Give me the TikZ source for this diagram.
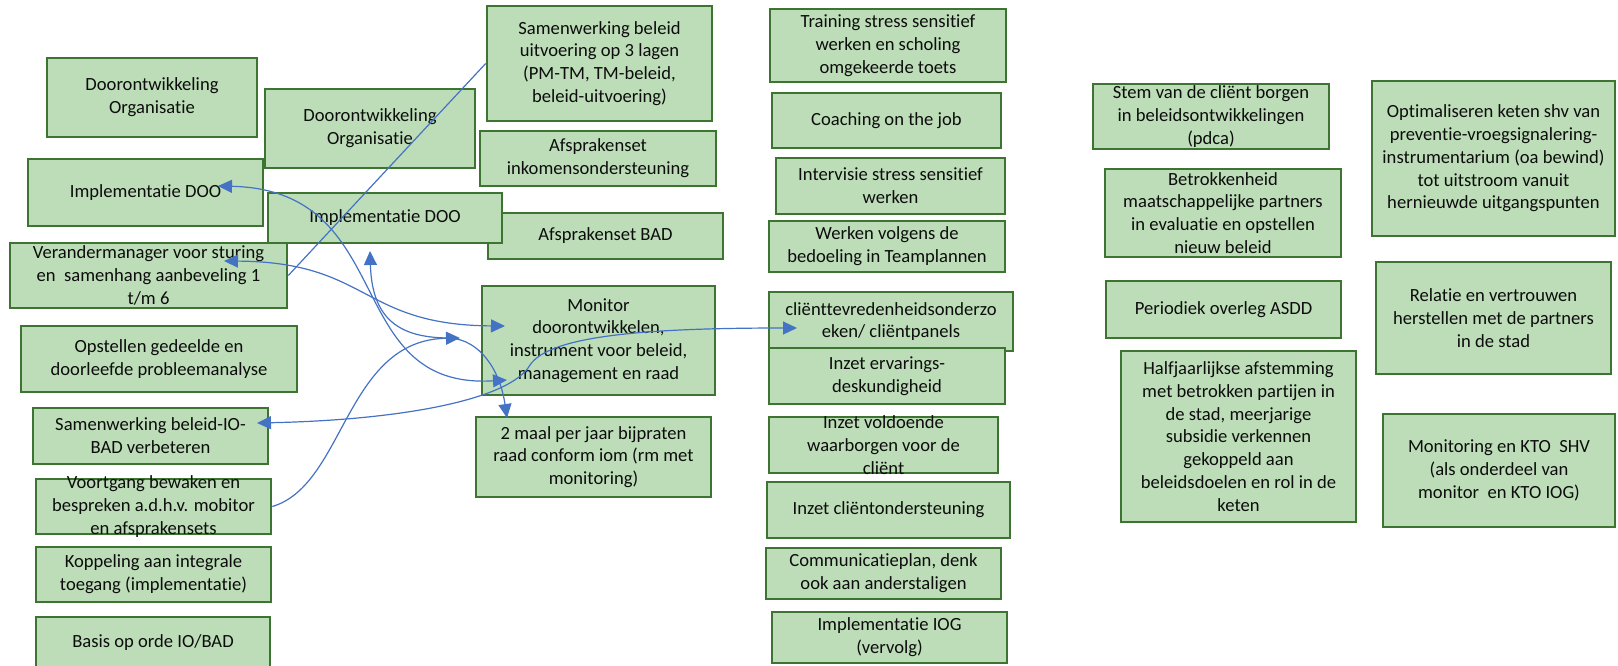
\documentclass[tikz,border=0pt]{standalone}
\usepackage{fontspec}
\setmainfont{Carlito}[Ligatures=NoCommon]
\usepackage{tikz}
\usetikzlibrary{fit,arrows.meta}
\definecolor{blokvul}{RGB}{189,221,184}
\definecolor{blokrand}{RGB}{62,116,50}
\definecolor{pijlblauw}{RGB}{68,114,196}

\begin{document}
\begin{tikzpicture}[x=0.5pt, y=-0.5pt,
    blok/.style={draw=blokrand, fill=blokvul, line width=1.3pt, inner sep=0pt},
    tekst/.style={align=center, inner sep=0pt, text=black!95, font=\fontsize{9.3}{11.4}\selectfont},
    lijn/.style={draw=pijlblauw, line width=0.6pt},
    pijl/.style={lijn, -{Triangle[length=7pt,width=6.5pt]}},
    tweepijl/.style={lijn, {Triangle[length=7pt,width=6.5pt]}-{Triangle[length=7pt,width=6.5pt]}}]
                \useasboundingbox (0,0) rectangle (1618,665);

                \node [blok, fit={(47,58) (257,137)}] (dooA) {};
                \node [tekst] (dooAt) at (dooA) {Doorontwikkeling\\Organisatie};
                \node [blok, fit={(265,89) (475,168)}] (dooB) {};
                \node [tekst] (dooBt) at (dooB) {Doorontwikkeling\\Organisatie};
                \node [blok, fit={(28,159) (263,226)}] (implA) {};
                \node [tekst] (implAt) at (implA) {Implementatie DOO};
                \node [blok, fit={(488,213) (723,259)}] (afsBAD) {};
                \node [tekst] (afsBADt) at (afsBAD) {Afsprakenset BAD};
                \node [blok, fit={(268,193) (502,243)}] (implB) {};
                \node [tekst] (implBt) at (implB) {Implementatie DOO};
                \node [blok, fit={(10,243) (287,308)}] (verander) {};
                \node [tekst] (veranderT) at (verander) {Verandermanager voor sturing\\en\ \ samenhang aanbeveling 1\\t/m 6};
                \node [blok, fit={(21,326) (297,392)}] (opstellen) {};
                \node [tekst] (opstellenT) at (opstellen) {Opstellen gedeelde en\\doorleefde probleemanalyse};
                \node [blok, fit={(33,408) (268,464)}] (samIO) {};
                \node [tekst] (samIOt) at (samIO) {Samenwerking beleid-IO-\\BAD verbeteren};
                \node [blok, fit={(36,479) (271,534)}] (voortgang) {};
                \node [tekst] (voortgangT) at (voortgang) {Voortgang bewaken en\\bespreken a.d.h.v. mobitor\\en afsprakensets};
                \node [blok, fit={(36,547) (271,602)}] (koppeling) {};
                \node [tekst] (koppelingT) at (koppeling) {Koppeling aan integrale\\toegang (implementatie)};
                \node [blok, fit={(36,617) (270,669)}] (basis) {};
                \node [tekst] (basisT) at (basis) {Basis op orde IO/BAD};

                \node [blok, fit={(487,6) (712,121)}] (samBeleid) {};
                \node [tekst] (samBeleidT) at (samBeleid) {Samenwerking beleid\\uitvoering op 3 lagen\\(PM-TM, TM-beleid,\\beleid-uitvoering)};
                \node [blok, fit={(480,131) (716,186)}] (afsInk) {};
                \node [tekst] (afsInkT) at (afsInk) {Afsprakenset\\inkomensondersteuning};
                \node [blok, fit={(482,286) (715,395)}] (monitor) {};
                \node [tekst] (monitorT) at (monitor) {Monitor\\doorontwikkelen,\\instrument voor beleid,\\management en raad};
                \node [blok, fit={(476,417) (711,497)}] (tweemaal) {};
                \node [tekst] (tweemaalT) at (tweemaal) {2 maal per jaar bijpraten\\raad conform iom (rm met\\monitoring)};

                \node [blok, fit={(770,9) (1006,82)}] (training) {};
                \node [tekst] (trainingT) at (training) {Training stress sensitief\\werken en scholing\\omgekeerde toets};
                \node [blok, fit={(772,93) (1001,148)}] (coaching) {};
                \node [tekst] (coachingT) at (coaching) {Coaching on the job};
                \node [blok, fit={(776,158) (1005,214)}] (intervisie) {};
                \node [tekst] (intervisieT) at (intervisie) {Intervisie stress sensitief\\werken};
                \node [blok, fit={(769,221) (1005,272)}] (werken) {};
                \node [tekst] (werkenT) at (werken) {Werken volgens de\\bedoeling in Teamplannen};
                \node [blok, fit={(769,292) (1013,351)}] (client) {};
                \node [tekst] (clientT) at (client) {cliënttevredenheidsonderzo\\eken/ cliëntpanels};
                \node [blok, fit={(769,348) (1005,404)}] (ervaring) {};
                \node [tekst] (ervaringT) at (ervaring) {Inzet ervarings-\\deskundigheid};
                \node [blok, fit={(769,417) (998,473)}] (voldoende) {};
                \node [tekst] (voldoendeT) at (voldoende) {Inzet voldoende\\waarborgen voor de\\cliënt};
                \node [blok, fit={(767,482) (1010,538)}] (clientOnd) {};
                \node [tekst] (clientOndT) at (clientOnd) {Inzet cliëntondersteuning};
                \node [blok, fit={(766,548) (1001,599)}] (communicatie) {};
                \node [tekst] (communicatieT) at (communicatie) {Communicatieplan, denk\\ook aan anderstaligen};
                \node [blok, fit={(772,612) (1007,663)}] (implIOG) {};
                \node [tekst] (implIOGt) at (implIOG) {Implementatie IOG\\(vervolg)};

                \node [blok, fit={(1093,84) (1329,149)}] (stem) {};
                \node [tekst] (stemT) at (stem) {Stem van de cliënt borgen\\in beleidsontwikkelingen\\(pdca)};
                \node [blok, fit={(1105,169) (1341,257)}] (betrokken) {};
                \node [tekst] (betrokkenT) at (betrokken) {Betrokkenheid\\maatschappelijke partners\\in evaluatie en opstellen\\nieuw beleid};
                \node [blok, fit={(1106,281) (1341,338)}] (periodiek) {};
                \node [tekst] (periodiekT) at (periodiek) {Periodiek overleg ASDD};
                \node [blok, fit={(1121,351) (1356,522)}] (halfjaar) {};
                \node [tekst] (halfjaarT) at (halfjaar) {Halfjaarlijkse afstemming\\met betrokken partijen in\\de stad, meerjarige\\subsidie verkennen\\gekoppeld aan\\beleidsdoelen en rol in de\\keten};
                \node [blok, fit={(1372,81) (1615,236)}] (optimal) {};
                \node [tekst] (optimalT) at (optimal) {Optimaliseren keten shv van\\preventie-vroegsignalering-\\instrumentarium (oa bewind)\\tot uitstroom vanuit\\hernieuwde uitgangspunten};
                \node [blok, fit={(1376,262) (1611,374)}] (relatie) {};
                \node [tekst] (relatieT) at (relatie) {Relatie en vertrouwen\\herstellen met de partners\\in de stad};
                \node [blok, fit={(1383,414) (1615,527)}] (monitoring) {};
                \node [tekst] (monitoringT) at (monitoring) {Monitoring en KTO\ \ SHV\\(als onderdeel van\\monitor\ \ en KTO IOG)};

                \coordinate (implApunt) at (218,186);
                \coordinate (monitorA) at (507,380);
                \coordinate (veranderPunt) at (224,261);
                \coordinate (monitorB) at (505,326);
                \coordinate (implBpunt) at (370,251);
                \coordinate (tweemaalPunt) at (507,418);
                \coordinate (samIOpunt) at (257,423);
                \coordinate (clientPunt) at (797,328);
                \coordinate (voortgangPunt) at (460,338);

                \draw [lijn] (verander.east) -- (samBeleid.west);
                \draw [tweepijl] (implApunt) .. controls (400,190) and (340,390) .. (monitorA);
                \draw [tweepijl] (veranderPunt) .. controls (370,262) and (360,325) .. (monitorB);
                \draw [tweepijl] (implBpunt) .. controls (372,320) and (400,338) .. (450,338) .. controls (480,340) and (500,370) .. (tweemaalPunt);
                \draw [tweepijl] (samIOpunt) .. controls (400,420) and (510,400) .. (530,365) .. controls (550,335) and (650,328) .. (clientPunt);
                \draw [pijl] (voortgang.east) .. controls (345,485) and (345,340) .. (voortgangPunt);
            \end{tikzpicture}
\end{document}
